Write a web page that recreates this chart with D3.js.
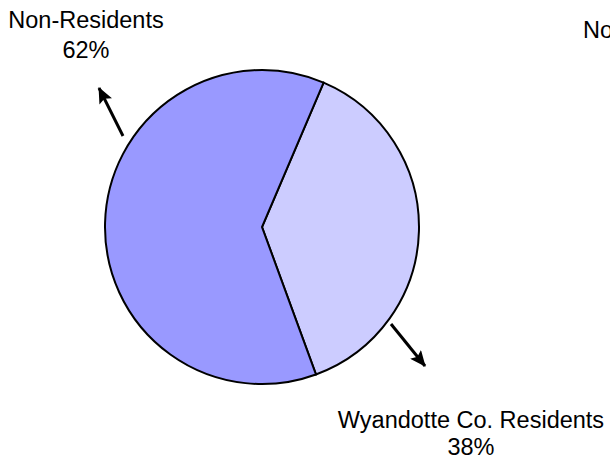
<!DOCTYPE html>
<html><head><meta charset="utf-8">
<script src="https://cdn.jsdelivr.net/npm/d3@7"></script>
<style>html,body{margin:0;padding:0;background:#fff;overflow:hidden}</style>
</head><body>
<svg id="c" width="610" height="460"></svg>
<script>
const categories = ["Wyandotte Co. Residents", "Non-Residents"];
const values = [38, 62];
const pctLabels = ["38%", "62%"];
const colors = ["#CCCCFF", "#9999FF"];
const legendText = ["Non-Residents"];

const svg = d3.select("#c");
const cx = 262, cy = 227, r = 157;
const startA = 23.1 * Math.PI / 180;

const pie = d3.pie().sort(null).value(d => d)
  .startAngle(startA).endAngle(startA + 2 * Math.PI);
const arcs = pie(values);
const arc = d3.arc().innerRadius(0).outerRadius(r);

const g = svg.append("g").attr("transform", `translate(${cx},${cy})`);
g.selectAll("path").data(arcs).enter().append("path")
  .attr("d", arc)
  .attr("fill", (d, i) => colors[i])
  .attr("stroke", "#000")
  .attr("stroke-width", 2)
  .attr("stroke-linejoin", "miter");

// arrows
const defs = svg.append("defs");
defs.append("marker").attr("id", "ah")
  .attr("viewBox", "0 0 16 14").attr("refX", 15).attr("refY", 7)
  .attr("markerWidth", 16).attr("markerHeight", 14)
  .attr("markerUnits", "userSpaceOnUse")
  .attr("orient", "auto")
  .append("path").attr("d", "M0,0 L16,7 L0,14 L3,7 Z").attr("fill", "#000");

const arrows = [
  {x1: 391, y1: 324, x2: 425, y2: 366},
  {x1: 123, y1: 136, x2: 99, y2: 88}
];
svg.selectAll("line.arrow").data(arrows).enter().append("line")
  .attr("class", "arrow")
  .attr("x1", d => d.x1).attr("y1", d => d.y1)
  .attr("x2", d => d.x2).attr("y2", d => d.y2)
  .attr("stroke", "#000").attr("stroke-width", 3)
  .attr("marker-end", "url(#ah)");

const font = "Liberation Sans, Arial, sans-serif";
const labelPos = [
  {x: 471, y: 428, dy: 27},
  {x: 86, y: 28, dy: 30}
];
categories.forEach((c, i) => {
  const t = svg.append("text")
    .attr("text-anchor", "middle")
    .attr("font-family", font).attr("font-size", 23.5).attr("fill", "#000");
  t.append("tspan").attr("x", labelPos[i].x).attr("y", labelPos[i].y).text(c);
  t.append("tspan").attr("x", labelPos[i].x).attr("y", labelPos[i].y + labelPos[i].dy).text(pctLabels[i]);
});

svg.append("text").attr("x", 583).attr("y", 38)
  .attr("font-family", font).attr("font-size", 23.5).attr("fill", "#000")
  .text(legendText[0]);
</script>
</body></html>
